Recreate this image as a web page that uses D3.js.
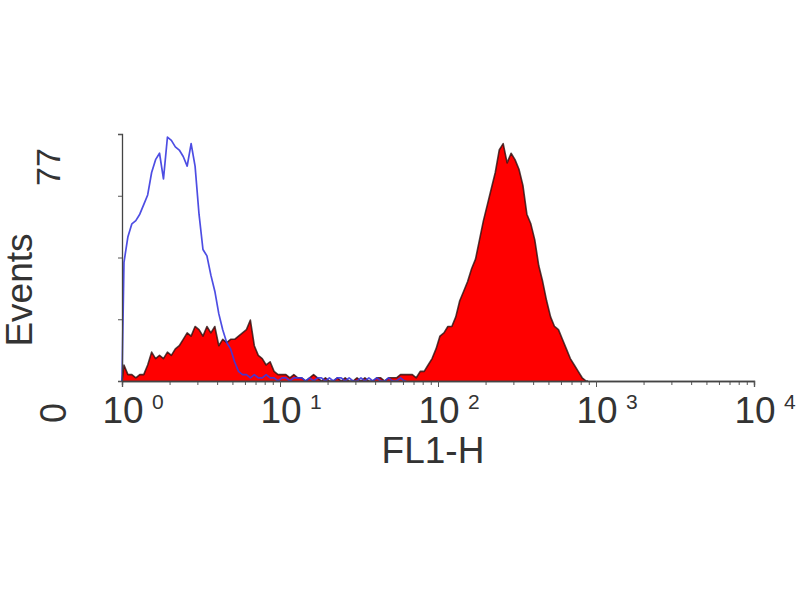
<!DOCTYPE html>
<html>
<head>
<meta charset="utf-8">
<script src="https://cdn.jsdelivr.net/npm/d3@7/dist/d3.min.js"></script>
<style>
  html, body { margin: 0; padding: 0; background: #fff; }
  svg { display: block; }
  text { font-family: "Liberation Sans", Arial, Helvetica, sans-serif; fill: #333; }
</style>
</head>
<body>
<svg id="chart" width="800" height="600"></svg>
<script>
// ---- data (FL1-H histogram, channels of 1/40 decade starting at 10^0) ----
const channelStep = 0.025;          // decades per channel
const yMax = 77;                    // top of Events axis
const yTicks = [0, 19.25, 38.5, 57.75, 77];
const yLabels = [{v: 0, t: "0"}, {v: 77, t: "77"}];
const xDecades = [0, 1, 2, 3, 4];
const xLabel = "FL1-H";
const yLabel = "Events";

// control (blue outline)
const controlCounts = [37,45,49,50,52,55,58,65,69,71,63,76,75,73,72,70,67,74,67,52,
  41,39,33,28,21,16,12,10,6,3,2,2,1,2,1,1,2,1,1,0,
  1,1,0,1,1,1,0,1,0,1,1,0,1,0,1,1,0,1,0,0,
  1,0,1,0,1,0,0,1,0,0,1,0];

// stained sample (red filled)
const sampleCounts = [5,2,2,1,2,2,5,9,7,8,7,9,8,10,11,13,15,14,17,16,
  14,17,15,17,11,13,12,13,13,14,15,16,19,11,8,7,5,6,3,2,
  2,2,1,2,1,1,0,1,2,1,0,1,0,0,1,0,1,0,0,1,
  0,1,0,0,1,1,0,1,1,1,2,2,2,2,1,3,3,5,7,10,
  14,15,17,17,20,25,28,31,35,38,44,50,55,60,65,72,74,68,71,69,
  66,61,52,49,44,36,31,25,20,17,16,13,10,7,5,3,1,0];

// ---- layout ----
const svg = d3.select("#chart");
const x = d3.scaleLog().domain([1, 10000]).range([122, 754]);
const y = d3.scaleLinear().domain([0, yMax]).range([381, 134]);

function toPoints(counts) {
  const pts = [{v: 1, c: 0}];
  counts.forEach((c, i) => pts.push({v: Math.pow(10, (i + 0.5) * channelStep), c}));
  pts.push({v: Math.pow(10, counts.length * channelStep), c: 0});
  return pts;
}

const samplePts = toPoints(sampleCounts);
const controlPts = toPoints(controlCounts);

const area = d3.area().x(d => x(d.v)).y0(y(0)).y1(d => y(d.c));
const line = d3.line().x(d => x(d.v)).y(d => y(d.c));

svg.append("path").datum(samplePts).attr("d", area)
  .attr("fill", "#ff0000");
svg.append("path").datum(samplePts).attr("d", line)
  .attr("fill", "none").attr("stroke", "#2a1010").attr("stroke-width", 1.6)
  .attr("stroke-opacity", 0.8).attr("stroke-linejoin", "round");
svg.append("path").datum(controlPts).attr("d", line)
  .attr("fill", "none").attr("stroke", "#3a3ae0").attr("stroke-width", 1.7)
  .attr("stroke-opacity", 0.9).attr("stroke-linejoin", "round");

// ---- x axis ----
const minorVals = [];
for (let d = 0; d < 4; d++) for (let m = 2; m <= 9; m++) minorVals.push(m * Math.pow(10, d));
const majorVals = xDecades.map(d => Math.pow(10, d));

const gx = svg.append("g").attr("transform", `translate(0,${y(0)})`);
gx.call(d3.axisBottom(x).tickValues(minorVals).tickSize(4).tickFormat(""));
gx.call(g => g.append("g").call(d3.axisBottom(x).tickValues(majorVals).tickSize(6).tickFormat("")));
gx.selectAll("path.domain").attr("stroke", "#444").attr("stroke-width", 1.3);
gx.selectAll(".tick line").attr("stroke", "#555").attr("stroke-width", 1);

const lbl = svg.append("g");
xDecades.forEach(d => {
  const px = x(Math.pow(10, d));
  lbl.append("text").attr("x", px + 1).attr("y", 423).attr("text-anchor", "middle")
    .attr("font-size", 37).text("10");
  lbl.append("text").attr("x", px + 30).attr("y", 409).attr("font-size", 21).text(String(d));
});
svg.append("text").attr("x", 433).attr("y", 463).attr("text-anchor", "middle")
  .attr("font-size", 37).text(xLabel);

// ---- y axis ----
const gy = svg.append("g").attr("transform", `translate(${x(1)},0)`);
gy.call(d3.axisLeft(y).tickValues(yTicks).tickSize(4).tickFormat(""));
gy.selectAll("path.domain").attr("stroke", "#444").attr("stroke-width", 1.3);
gy.selectAll(".tick line").attr("stroke", "#555");

svg.append("text").attr("transform", "translate(66,413) rotate(-90)")
  .attr("text-anchor", "middle").attr("font-size", 36).text(yLabels[0].t);
svg.append("text").attr("transform", "translate(60,167) rotate(-90)")
  .attr("text-anchor", "middle").attr("font-size", 34).text(yLabels[1].t);
svg.append("text").attr("transform", "translate(32,290) rotate(-90)")
  .attr("text-anchor", "middle").attr("font-size", 37).text(yLabel);
</script>
</body>
</html>
